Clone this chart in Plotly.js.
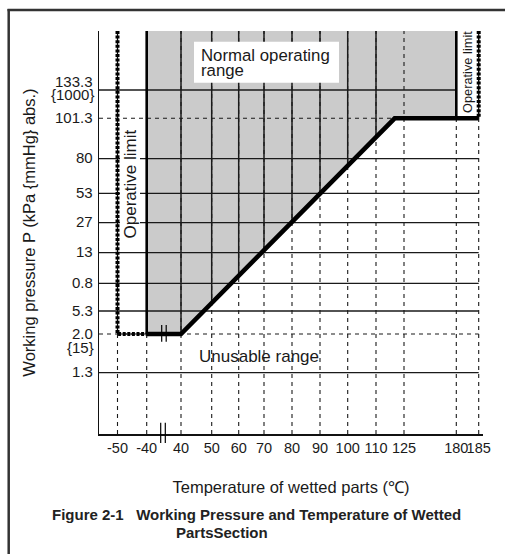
<!DOCTYPE html>
<html>
<head>
<meta charset="utf-8">
<script src="https://cdn.plot.ly/plotly-3.0.1.min.js"></script>
<style>html,body{margin:0;padding:0;background:#fff;}#chart{width:505px;height:554px;}</style>
</head>
<body>
<div id="chart"></div>
<script>
// ---- Data ----
const temps = [-50, -40, 40, 50, 60, 70, 80, 90, 100, 110, 125, 180, 185];
const xTickLabels = ['-50', '-40', '40', '50', '60', '70', '80', '90', '100', '110', '125', '180', '185'];
const pressLabels = ['1.3', '2.0', '5.3', '0.8', '13', '27', '53', '80', '101.3', '133.3'];
const pressSub = ['', '{15}', '', '', '', '', '', '', '', '{1000}'];

// boundary of the normal operating range (temperature, pressure label)
const limitT = [-40, 40, 120, 185];
const limitP = ['2.0', '2.0', '101.3', '101.3'];
// operative limits
const lowOpT = [-50, -50, -40];
const lowOpP = ['top', '2.0', '2.0'];
const highOpT = [185, 185];
const highOpP = ['top', '101.3'];
// normal operating region
const normalT = [-40, 180, 180, 120, 40, -40];
const normalP = ['top', 'top', '101.3', '101.3', '2.0', '2.0'];
// unusable region (below the boundary)
const unusableT = [-40, 40, 120, 180, 180, -40];
const unusableP = ['2.0', '2.0', '101.3', '101.3', 'bottom', 'bottom'];

const solidVertT = [40, 50, 60, 70, 80, 90, 100, 110];
const solidHorzP = ['1.3', '5.3', '0.8', '13', '27', '53', '80'];
const dashedHorzP = ['2.0', '101.3'];

// ---- Scale definition (spacing of the chart's irregular axes) ----
const L = 99, R = 483, T = 31, B = 434;
const xPos = [117.5, 146.7, 181, 211.7, 238.7, 264, 292, 320, 347.7, 376, 404, 456.3, 478.7];
const yPos = [372.7, 334, 311, 283.3, 252.7, 222.7, 193.3, 158.7, 118.3, 90];

function xs(t) {
  if (t === 'left') return L;
  const i = temps.indexOf(t);
  if (i >= 0) return xPos[i];
  for (let k = 0; k < temps.length - 1; k++) {
    if (t > temps[k] && t < temps[k + 1]) {
      return xPos[k] + (t - temps[k]) / (temps[k + 1] - temps[k]) * (xPos[k + 1] - xPos[k]);
    }
  }
  return null;
}
function ys(p) {
  if (p === 'top') return T;
  if (p === 'bottom') return B;
  return yPos[pressLabels.indexOf(p)];
}
function px(x) { return (x - L) / (R - L); }
function py(y) { return (B - y) / (B - T); }

function segs(list, f) {
  const X = [], Y = [];
  list.forEach(s => { const r = f(s); X.push(r[0][0], r[1][0], null); Y.push(r[0][1], r[1][1], null); });
  return { x: X, y: Y };
}

const INK = '#1a1a1a';
const traces = [];

// grey normal operating range
traces.push({ x: normalT.map(xs), y: normalP.map(ys), mode: 'lines', fill: 'toself',
  fillcolor: '#cbcbcb', line: { width: 0 }, hoverinfo: 'skip' });

// solid verticals inside the grey region
let s = segs(solidVertT, t => [[xs(t), T], [xs(t), B]]);
traces.push({ x: s.x, y: s.y, mode: 'lines', line: { color: INK, width: 1.5 }, hoverinfo: 'skip' });

// white unusable region masks the lower part of those verticals
traces.push({ x: unusableT.map(xs), y: unusableP.map(ys), mode: 'lines', fill: 'toself',
  fillcolor: '#ffffff', line: { width: 0 }, hoverinfo: 'skip' });

// dashed verticals
s = segs(temps, t => [[xs(t), B], [xs(t), T]]);
traces.push({ x: s.x, y: s.y, mode: 'lines', line: { color: INK, width: 1.1, dash: '4px,4px' }, hoverinfo: 'skip' });

// solid horizontals
s = segs(solidHorzP, p => [[L, ys(p)], [xs(185), ys(p)]]);
traces.push({ x: s.x, y: s.y, mode: 'lines', line: { color: INK, width: 1.3 }, hoverinfo: 'skip' });
s = segs(['133.3'], p => [[L, ys(p)], [xs(180), ys(p)]]);
traces.push({ x: s.x, y: s.y, mode: 'lines', line: { color: INK, width: 1.3 }, hoverinfo: 'skip' });

// dashed horizontals
s = segs(dashedHorzP, p => [[L, ys(p)], [xs(185), ys(p)]]);
traces.push({ x: s.x, y: s.y, mode: 'lines', line: { color: INK, width: 1.1, dash: '4px,4px' }, hoverinfo: 'skip' });

// thick edges of the normal range
s = segs([[-40, '2.0'], [180, '101.3']], a => [[xs(a[0]), T], [xs(a[0]), ys(a[1])]]);
traces.push({ x: s.x, y: s.y, mode: 'lines', line: { color: '#000', width: 2.6 }, hoverinfo: 'skip' });

// operative limits (dotted)
[[lowOpT, lowOpP], [highOpT, highOpP]].forEach(o => {
  traces.push({ x: o[0].map(xs), y: o[1].map(ys), mode: 'lines', line: { color: '#000', width: 1.2 }, hoverinfo: 'skip' });
  traces.push({ x: o[0].map(xs), y: o[1].map(ys), mode: 'lines', line: { color: '#000', width: 4, dash: '3px,1.6px' }, hoverinfo: 'skip' });
});

// main boundary
traces.push({ x: limitT.map(xs), y: limitP.map(ys), mode: 'lines',
  line: { color: '#000', width: 4.6 }, hoverinfo: 'skip' });

const FONT = 'Liberation Sans, Arial, Helvetica, sans-serif';
const annotations = [];
pressLabels.forEach((lab, i) => {
  annotations.push({ xref: 'paper', yref: 'y', x: px(94.5), y: yPos[i], xanchor: 'right', yanchor: 'middle',
    text: lab, showarrow: false, yshift: lab === '133.3' ? 9 : 1, font: { size: 15, color: INK, family: FONT } });
  if (pressSub[i]) {
    annotations.push({ xref: 'paper', yref: 'y', x: px(95.5), y: yPos[i], xanchor: 'right', yanchor: 'middle',
      text: pressSub[i], showarrow: false, yshift: lab === '133.3' ? -4.5 : -13, font: { size: 15, color: INK, family: FONT } });
  }
});
annotations.push(
  { xref: 'x', yref: 'y', x: 199, y: 55.5, xanchor: 'left', yanchor: 'middle', text: 'Normal operating',
    showarrow: false, font: { size: 16.8, color: INK, family: FONT } },
  { xref: 'x', yref: 'y', x: 199, y: 70, xanchor: 'left', yanchor: 'middle', text: 'range',
    showarrow: false, font: { size: 16.8, color: INK, family: FONT } },
  { xref: 'x', yref: 'y', x: 129.5, y: 184, textangle: -90, text: 'Operative limit', showarrow: false,
    bgcolor: '#ffffff', borderpad: 0, font: { size: 17, color: INK, family: FONT } },
  { xref: 'x', yref: 'y', x: 467.5, y: 72.5, textangle: -90, text: 'Operative limit', showarrow: false,
    bgcolor: '#ffffff', borderpad: 0, font: { size: 12.8, color: INK, family: FONT } },
  { xref: 'x', yref: 'y', x: 258.8, y: 356.7, text: 'Unusable range', showarrow: false,
    font: { size: 17, color: INK, family: FONT } },
  { xref: 'paper', yref: 'paper', x: px(50), y: py(514), xanchor: 'left', yanchor: 'middle',
    text: '<b>Figure 2-1\u00a0\u00a0 Working Pressure and Temperature of Wetted</b>', showarrow: false,
    font: { size: 15, color: '#222', family: FONT } },
  { xref: 'paper', yref: 'paper', x: px(174), y: py(532.7), xanchor: 'left', yanchor: 'middle',
    text: '<b>PartsSection</b>', showarrow: false, font: { size: 15, color: '#222', family: FONT } }
);

const shapes = [
  // white box behind "Normal operating range"
  { type: 'rect', xref: 'x', yref: 'y', x0: 194, x1: 339, y0: 41.7, y1: 82.7, fillcolor: '#fff', line: { width: 0 }, layer: 'above' },
  // figure frame
  { type: 'line', xref: 'paper', yref: 'paper', x0: px(7.5), x1: px(505), y0: py(10), y1: py(10), line: { color: '#333', width: 2.5 } },
  { type: 'line', xref: 'paper', yref: 'paper', x0: px(8.7), x1: px(8.7), y0: py(9), y1: py(554), line: { color: '#333', width: 2.5 } },
  // axis break marks
  { type: 'line', xref: 'paper', yref: 'paper', x0: px(160.7), x1: px(160.7), y0: py(422.7), y1: py(443), line: { color: '#000', width: 1.2 } },
  { type: 'line', xref: 'paper', yref: 'paper', x0: px(165.3), x1: px(165.3), y0: py(422.7), y1: py(443), line: { color: '#000', width: 1.2 } },
  { type: 'line', xref: 'paper', yref: 'paper', x0: px(161.7), x1: px(161.7), y0: py(325), y1: py(341.7), line: { color: '#000', width: 1.2 } },
  { type: 'line', xref: 'paper', yref: 'paper', x0: px(166.2), x1: px(166.2), y0: py(325), y1: py(341.7), line: { color: '#000', width: 1.2 } }
];

const layout = {
  width: 505, height: 554,
  margin: { l: L, r: 505 - R, t: T, b: 554 - B, pad: 0 },
  paper_bgcolor: '#fff', plot_bgcolor: '#fff',
  showlegend: false, hovermode: false,
  font: { family: FONT, color: INK },
  xaxis: {
    range: [L, R], showgrid: false, zeroline: false, showline: true, linecolor: '#111', linewidth: 1.5,
    tickmode: 'array', tickvals: xPos, ticktext: xTickLabels, ticks: '', tickangle: 0,
    tickfont: { size: 14.5, color: INK, family: FONT },
    title: { text: 'Temperature of wetted parts (\u2103)', font: { size: 16.5, color: INK, family: FONT }, standoff: 26 }
  },
  yaxis: {
    range: [B, T], showgrid: false, zeroline: false, showline: true, linecolor: '#111', linewidth: 1.5,
    showticklabels: false, ticks: '',
    title: { text: 'Working pressure P (kPa {mmHg} abs.)', font: { size: 16.5, color: INK, family: FONT }, standoff: 57 }
  },
  annotations: annotations,
  shapes: shapes
};

Plotly.newPlot('chart', traces, layout, { staticPlot: true, displayModeBar: false });
</script>
</body>
</html>
